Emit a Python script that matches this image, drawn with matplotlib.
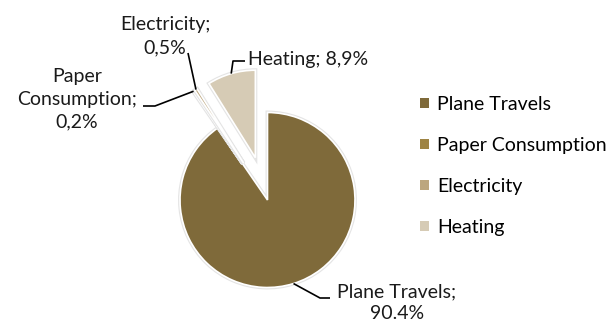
import matplotlib
matplotlib.use("Agg")
import matplotlib.pyplot as plt
from matplotlib.patches import Patch
import matplotlib.patheffects as pe
import numpy as np

categories = ["Plane Travels", "Paper Consumption", "Electricity", "Heating"]
values = [90.4, 0.2, 0.5, 8.9]
label_texts = ["Plane Travels;\n90.4%", "Paper\nConsumption;\n0,2%", "Electricity;\n0,5%", "Heating; 8,9%"]
colors = ["#7F6A3A", "#9E8444", "#BCA67E", "#D6CBB5"]

W, H = 608, 324
fig = plt.figure(figsize=(W / 100, H / 100), dpi=100)
ax = fig.add_axes([0, 0, 1, 1])

FONT = "Lato"
FS = 14

cx, cy, R = 267.5, H - 200, 87.5
explode = [0, 44, 44, 44]
wedges, _ = ax.pie(values, colors=colors, startangle=90, counterclock=False,
                   explode=explode, radius=R, center=(cx, cy), frame=True,
                   wedgeprops=dict(edgecolor="white", linewidth=1.2))
for w in wedges:
    w.set_path_effects([pe.Stroke(linewidth=2.8, foreground="#e4e4e4"), pe.Normal()])
ax.set_xlim(0, W)
ax.set_ylim(0, H)
ax.set_aspect("equal")
ax.axis("off")

def anchor(w, frac=1.0):
    th = np.deg2rad((w.theta1 + w.theta2) / 2)
    x0, y0 = w.center
    return x0 + w.r * frac * np.cos(th), y0 + w.r * frac * np.sin(th)

def py(y):
    return H - y

# label placements (pixel coordinates, y from top)
lab = {
    0: dict(pos=(397, 303), path=[(330, 298), (320, 298)], ls=1.32),
    1: dict(pos=(77, 99), path=[(143, 106), (155, 106)], ls=1.42),
    2: dict(pos=(165, 36), path=[(188, 53)], ls=1.42),
    3: dict(pos=(308, 59), path=[(245, 61), (233, 61)], ls=1.42),
}
for i, w in enumerate(wedges):
    d = lab[i]
    ax.text(d["pos"][0], py(d["pos"][1]), label_texts[i], ha="center", va="center",
            fontsize=FS, family=FONT, linespacing=d["ls"], color="#1a1a1a")
    ax_, ay_ = anchor(w, 1.0)
    pts = [(x, py(y)) for x, y in d["path"]] + [(ax_, ay_)]
    xs, ys = zip(*pts)
    ax.plot(xs, ys, color="black", lw=1.2, solid_capstyle="butt")

handles = [Patch(facecolor=c, edgecolor="none") for c in colors]
leg = fig.legend(handles, categories, loc="center left",
                 bbox_to_anchor=(420 / W, 1 - 166 / H), frameon=False,
                 prop=dict(family=FONT, size=FS),
                 handlelength=0.46, handleheight=0.46, handletextpad=0.42,
                 labelspacing=1.23, borderaxespad=0, borderpad=0)

fig.savefig("out.png", dpi=100)
